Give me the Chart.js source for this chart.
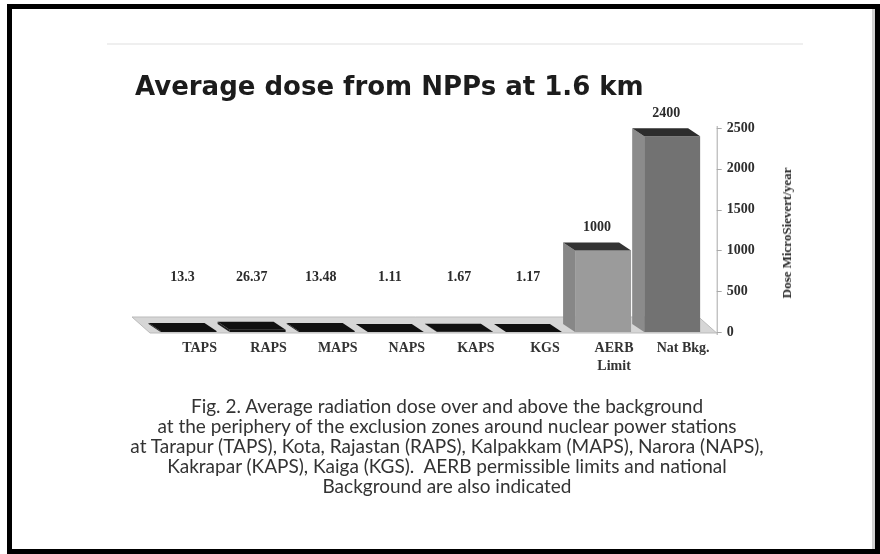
<!DOCTYPE html>
<html>
<head>
<meta charset="utf-8">
<script src="https://cdn.jsdelivr.net/npm/chart.js@4.4.1/dist/chart.umd.min.js"></script>
<style>
  html, body { margin: 0; padding: 0; background: #fff; }
  body { width: 880px; height: 554px; position: relative; overflow: hidden; }
  #chart { position: absolute; left: 0; top: 0; }
  #frame { position: absolute; left: 7px; top: 4px; width: 873px; height: 550px; box-sizing: border-box;
           border: 5px solid #000; box-shadow: inset -3px 0 0 #d0d0d0; }
  #rule { position: absolute; left: 107px; top: 43px; width: 696px; height: 2px; background: #efefef; }
  #title { position: absolute; left: 135px; top: 73px; font: bold 26px "DejaVu Sans"; line-height: 26px;
           color: #1c1c1c; white-space: nowrap; }
  #ytitle { position: absolute; left: 787px; top: 233px; transform: translate(-50%, -50%) rotate(-90deg);
            font: bold 13px "Liberation Serif"; color: #2a2a2a; white-space: nowrap; }
  #caption { position: absolute; left: 0; width: 894px; top: 396px; text-align: center;
             font: 19px Lato; line-height: 20px; color: #333; white-space: pre; }
</style>
</head>
<body>
<canvas id="chart" width="880" height="554"></canvas>
<div id="rule"></div>
<div id="title">Average dose from NPPs at 1.6 km</div>
<div id="ytitle">Dose MicroSievert/year</div>
<div id="caption">Fig. 2. Average radiation dose over and above the background
at the periphery of the exclusion zones around nuclear power stations
at Tarapur (TAPS), Kota, Rajastan (RAPS), Kalpakkam (MAPS), Narora (NAPS),
Kakrapar (KAPS), Kaiga (KGS).  AERB permissible limits and national
Background are also indicated</div>
<div id="frame"></div>
<script>
// Stations plus the regulatory limit and the natural background
const categories = ['TAPS', 'RAPS', 'MAPS', 'NAPS', 'KAPS', 'KGS', ['AERB', 'Limit'], 'Nat Bkg.'];
// Average dose, microsievert per year
const doseValues = [13.3, 26.37, 13.48, 1.11, 1.67, 1.17, 1000, 2400];
// Dose axis ticks
const yTickValues = [0, 500, 1000, 1500, 2000, 2500];

// Face shading of each column: front, left side, top
const frontColors = ['#141414', '#141414', '#141414', '#141414', '#141414', '#141414', '#9b9b9b', '#727272'];
const sideColors  = ['#202020', '#202020', '#202020', '#202020', '#202020', '#202020', '#878787', '#8b8b8b'];
const topColors   = ['#101010', '#101010', '#101010', '#101010', '#101010', '#101010', '#343434', '#2c2c2c'];

// Oblique projection of the depth axis (back face is up and to the left)
const DEPTH_X = -12;
const DEPTH_Y = -8;
const SERIF = '"Liberation Serif", "Times New Roman", serif';

const pseudo3d = {
  id: 'pseudo3d',
  beforeDatasetsDraw(chart) {
    const { ctx, chartArea: a, scales: { y } } = chart;
    const base = y.getPixelForValue(0);
    const axisX = a.right + 10;
    ctx.save();
    // floor slab under the columns
    ctx.beginPath();
    ctx.moveTo(a.left - 4, base + 1);
    ctx.lineTo(axisX, base + 1);
    ctx.lineTo(axisX - 18, base - 15);
    ctx.lineTo(a.left - 22, base - 15);
    ctx.closePath();
    ctx.fillStyle = '#d6d6d6';
    ctx.fill();
    ctx.strokeStyle = '#bbbbbb';
    ctx.lineWidth = 1;
    ctx.stroke();
    ctx.restore();
  },
  afterDatasetsDraw(chart) {
    const { ctx, chartArea: a, scales: { y } } = chart;
    const meta = chart.getDatasetMeta(0);
    const base = y.getPixelForValue(0);
    ctx.save();
    meta.data.forEach((bar, i) => {
      const { x, y: top, width } = bar.getProps(['x', 'y', 'width'], true);
      const l = x - width / 2, r = x + width / 2;
      // left side face
      ctx.beginPath();
      ctx.moveTo(l, top);
      ctx.lineTo(l, base);
      ctx.lineTo(l + DEPTH_X, base + DEPTH_Y);
      ctx.lineTo(l + DEPTH_X, top + DEPTH_Y);
      ctx.closePath();
      ctx.fillStyle = sideColors[i];
      ctx.fill();
      // top face
      ctx.beginPath();
      ctx.moveTo(l, top);
      ctx.lineTo(r, top);
      ctx.lineTo(r + DEPTH_X, top + DEPTH_Y);
      ctx.lineTo(l + DEPTH_X, top + DEPTH_Y);
      ctx.closePath();
      ctx.fillStyle = topColors[i];
      ctx.fill();
    });

    // value axis line with outward tick marks
    const axisX = a.right + 10;
    ctx.strokeStyle = '#a8a8a8';
    ctx.lineWidth = 1;
    ctx.beginPath();
    ctx.moveTo(axisX + 0.5, a.top - 2);
    ctx.lineTo(axisX + 0.5, base + 3);
    ctx.stroke();
    yTickValues.forEach(v => {
      const py = Math.round(y.getPixelForValue(v)) + 0.5;
      ctx.beginPath();
      ctx.moveTo(axisX, py);
      ctx.lineTo(axisX + 5, py);
      ctx.stroke();
    });

    // value labels above the columns
    ctx.font = 'bold 14px ' + SERIF;
    ctx.fillStyle = '#2b2b2b';
    ctx.textAlign = 'center';
    ctx.textBaseline = 'middle';
    const rowY = a.bottom - 55;
    meta.data.forEach((bar, i) => {
      const { x, y: top } = bar.getProps(['x', 'y'], true);
      const ly = Math.min(top + DEPTH_Y - 15, rowY);
      ctx.fillText(String(doseValues[i]), x + DEPTH_X / 2, ly);
    });
    ctx.restore();
  }
};

new Chart(document.getElementById('chart'), {
  type: 'bar',
  data: {
    labels: categories,
    datasets: [{
      data: doseValues,
      backgroundColor: frontColors,
      borderWidth: 0,
      barPercentage: 0.81,
      categoryPercentage: 1
    }]
  },
  options: {
    responsive: false,
    animation: false,
    devicePixelRatio: 1,
    layout: { padding: { left: 154, top: 128, right: 73.3, bottom: 172 } },
    plugins: { legend: { display: false }, tooltip: { enabled: false } },
    scales: {
      x: {
        grid: { display: false, drawTicks: false },
        border: { display: false },
        afterFit(scale) { scale.height = 50; },
        ticks: {
          autoSkip: false,
          maxRotation: 0,
          padding: 8,
          labelOffset: 11,
          color: '#333',
          font: { family: SERIF, size: 14, weight: 'bold', lineHeight: 1.25 }
        }
      },
      y: {
        position: 'right',
        min: 0,
        max: 2500,
        grid: { display: false, drawTicks: false },
        border: { display: false },
        afterFit(scale) { scale.width = 100; },
        afterBuildTicks(scale) { scale.ticks = yTickValues.map(v => ({ value: v })); },
        ticks: {
          padding: 20,
          color: '#2e2e2e',
          font: { family: SERIF, size: 14, weight: 'bold' },
          callback: v => String(v)
        }
      }
    }
  },
  plugins: [pseudo3d]
});
</script>
</body>
</html>
